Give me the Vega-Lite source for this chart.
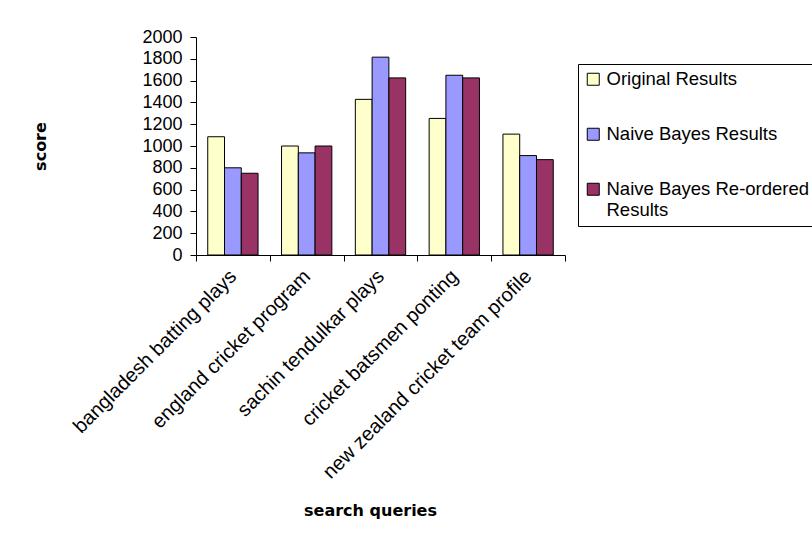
{
  "$schema": "https://vega.github.io/schema/vega-lite/v6.json",
  "autosize": "none",
  "width": 369,
  "height": 218,
  "padding": {"left": 196, "top": 37, "right": 247, "bottom": 288},
  "background": "white",
  "config": {
    "view": {"stroke": null},
    "font": "Liberation Sans",
    "axis": {"grid": false, "domainColor": "black", "tickColor": "black", "labelColor": "black", "titleColor": "black", "labelFont": "Liberation Sans", "titleFont": "DejaVu Sans"}
  },
  "data": {
    "values": [
      {"query": "bangladesh batting plays", "series": "Original Results", "score": 1085},
      {"query": "bangladesh batting plays", "series": "Naive Bayes Results", "score": 800},
      {"query": "bangladesh batting plays", "series": "Naive Bayes Re-ordered Results", "score": 750},
      {"query": "england cricket program", "series": "Original Results", "score": 1000},
      {"query": "england cricket program", "series": "Naive Bayes Results", "score": 937},
      {"query": "england cricket program", "series": "Naive Bayes Re-ordered Results", "score": 1000},
      {"query": "sachin tendulkar plays", "series": "Original Results", "score": 1428},
      {"query": "sachin tendulkar plays", "series": "Naive Bayes Results", "score": 1815},
      {"query": "sachin tendulkar plays", "series": "Naive Bayes Re-ordered Results", "score": 1625},
      {"query": "cricket batsmen ponting", "series": "Original Results", "score": 1253},
      {"query": "cricket batsmen ponting", "series": "Naive Bayes Results", "score": 1649},
      {"query": "cricket batsmen ponting", "series": "Naive Bayes Re-ordered Results", "score": 1625},
      {"query": "new zealand cricket team profile", "series": "Original Results", "score": 1109},
      {"query": "new zealand cricket team profile", "series": "Naive Bayes Results", "score": 912},
      {"query": "new zealand cricket team profile", "series": "Naive Bayes Re-ordered Results", "score": 875}
    ]
  },
  "mark": {"type": "bar", "stroke": "black", "strokeWidth": 1},
  "encoding": {
    "x": {
      "field": "query", "type": "nominal", "sort": null,
      "scale": {"paddingInner": 0, "paddingOuter": 0},
      "axis": {
        "title": "search queries", "titleFontSize": 16, "titleFontWeight": "bold",
        "titleX": 174, "titleY": 255, "titleBaseline": "middle", "titleAlign": "center",
        "labelAngle": -45, "labelAlign": "right", "labelBaseline": "middle",
        "labelFontSize": 20, "labelPadding": 12, "labelLimit": 400,
        "tickBand": "extent", "tickSize": 6
      }
    },
    "xOffset": {"field": "series", "type": "nominal", "sort": ["Original Results", "Naive Bayes Results", "Naive Bayes Re-ordered Results"], "scale": {"paddingInner": 0, "paddingOuter": 0.7}},
    "y": {
      "field": "score", "type": "quantitative",
      "scale": {"domain": [0, 2000], "nice": false},
      "axis": {
        "title": "score", "titleFontSize": 16, "titleFontWeight": "bold",
        "titleX": -156, "titleY": 109, "titleBaseline": "middle", "titleAlign": "center", "titleAngle": -90,
        "values": [0, 200, 400, 600, 800, 1000, 1200, 1400, 1600, 1800, 2000],
        "format": "d",
        "labelFontSize": 18, "labelPadding": 8, "tickSize": 6
      }
    },
    "color": {
      "field": "series", "type": "nominal",
      "sort": ["Original Results", "Naive Bayes Results", "Naive Bayes Re-ordered Results"],
      "scale": {"domain": ["Original Results", "Naive Bayes Results", "Naive Bayes Re-ordered Results"], "range": ["#FFFFCC", "#9999FF", "#993366"]},
      "legend": {
        "title": null, "orient": "none", "legendX": 382, "legendY": 27,
        "strokeColor": "black", "fillColor": "white", "padding": 6,
        "symbolType": "square", "symbolSize": 144, "symbolStrokeColor": "black", "symbolStrokeWidth": 1, "symbolOffset": 0,
        "labelFontSize": 18.5, "labelLineHeight": 23, "labelColor": "black", "labelLimit": 400, "labelOffset": 4, "rowPadding": 36,
        "labelExpr": "datum.label == 'Naive Bayes Re-ordered Results' ? ['Naive Bayes Re-ordered', 'Results'] : datum.label"
      }
    }
  }
}
